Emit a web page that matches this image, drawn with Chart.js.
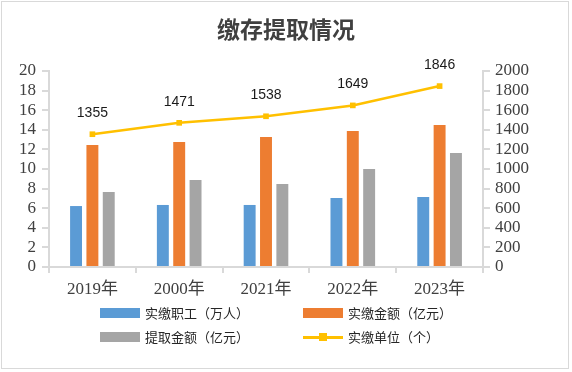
<!DOCTYPE html>
<html>
<head>
<meta charset="utf-8">
<script src="https://cdn.jsdelivr.net/npm/chart.js@4"></script>
<style>
  html,body{margin:0;padding:0;background:#fff;}
  #wrap{position:absolute;left:0;top:0;width:572px;height:372px;}
  #frame{position:absolute;left:1px;top:1px;width:568px;height:368px;border:1px solid #d9d9d9;box-sizing:border-box;pointer-events:none;}
  #title{position:absolute;left:0;width:572px;top:13px;text-align:center;font-family:"Noto Sans CJK SC";font-weight:bold;font-size:23px;color:#404040;line-height:30px;}
  .lg{position:absolute;font-family:"Noto Sans CJK SC";font-size:13px;color:#262626;line-height:16px;white-space:nowrap;}
  .sw{position:absolute;}
</style>
</head>
<body>
<div id="wrap">
  <canvas id="c" width="572" height="372"></canvas>
  <div id="title">缴存提取情况</div>
  <div id="legend"></div>
  <div id="frame"></div>
</div>
<script>
const categories = ['2019年','2000年','2021年','2022年','2023年'];
const workers = [6.22, 6.33, 6.33, 7.04, 7.14];       // 实缴职工（万人）
const depositAmt = [12.45, 12.76, 13.27, 13.88, 14.49]; // 实缴金额（亿元）
const withdrawAmt = [7.65, 8.88, 8.47, 10.0, 11.63];  // 提取金额（亿元）
const units = [1355, 1471, 1538, 1649, 1846];          // 实缴单位（个）
const leftTicks = [0,2,4,6,8,10,12,14,16,18,20];
const rightTicks = [0,200,400,600,800,1000,1200,1400,1600,1800,2000];

const seriesNames = ['实缴职工（万人）','实缴金额（亿元）','提取金额（亿元）','实缴单位（个）'];
const colors = ['#5b9bd5','#ed7d31','#a5a5a5','#ffc000'];

const axisColor = '#d9d9d9';
const tickFont = {family:'"Liberation Serif","Noto Sans CJK SC"', size:17};

const labelPlugin = {
  id:'lineLabels',
  afterDatasetsDraw(chart){
    const meta = chart.getDatasetMeta(3);
    const ctx = chart.ctx;
    ctx.save();
    ctx.font = '14px "Liberation Sans"';
    ctx.fillStyle = '#1a1a1a';
    ctx.textAlign = 'center';
    ctx.textBaseline = 'middle';
    meta.data.forEach((pt,i)=>{
      ctx.fillText(String(units[i]), pt.x, pt.y - 21);
    });
    ctx.restore();
  }
};

const barCommon = {categoryPercentage:0.565, barPercentage:0.73, yAxisID:'y', order:2};

new Chart(document.getElementById('c'), {
  type:'bar',
  data:{
    labels:categories,
    datasets:[
      {label:seriesNames[0], data:workers, backgroundColor:colors[0], ...barCommon},
      {label:seriesNames[1], data:depositAmt, backgroundColor:colors[1], ...barCommon},
      {label:seriesNames[2], data:withdrawAmt, backgroundColor:colors[2], ...barCommon},
      {label:seriesNames[3], data:units, type:'line', yAxisID:'y1', borderColor:colors[3], backgroundColor:colors[3],
       borderWidth:2.5, pointStyle:'rect', pointRadius:4, pointHoverRadius:4, pointBorderWidth:0, tension:0, order:1}
    ]
  },
  options:{
    responsive:false,
    animation:false,
    events:[],
    layout:{padding:{left:0,right:0,top:71,bottom:0}},
    plugins:{legend:{display:false}, title:{display:false}, tooltip:{enabled:false}},
    scales:{
      x:{
        grid:{display:true, drawOnChartArea:false, drawTicks:true, tickLength:6, color:axisColor, lineWidth:2, offset:true},
        border:{display:true, color:axisColor, width:2},
        ticks:{font:tickFont, color:'#404040', padding:6},
        afterFit(s){ s.height = 105; }
      },
      y:{
        position:'left', min:0, max:20,
        afterBuildTicks(s){ s.ticks = leftTicks.map(v=>({value:v})); },
        grid:{display:true, drawOnChartArea:false, drawTicks:true, tickLength:7, color:axisColor, lineWidth:2},
        border:{display:true, color:axisColor, width:2},
        ticks:{font:tickFont, color:'#404040', padding:6, autoSkip:false, callback:v=>String(v)},
        afterFit(s){ s.width = 49; }
      },
      y1:{
        position:'right', min:0, max:2000,
        afterBuildTicks(s){ s.ticks = rightTicks.map(v=>({value:v})); },
        grid:{display:true, drawOnChartArea:false, drawTicks:true, tickLength:7, color:axisColor, lineWidth:2},
        border:{display:true, color:axisColor, width:2},
        ticks:{font:tickFont, color:'#404040', padding:5, autoSkip:false, callback:v=>String(v)},
        afterFit(s){ s.width = 89; }
      }
    }
  },
  plugins:[labelPlugin]
});

// HTML legend built from series names/colours
const lg = document.getElementById('legend');
const pos = [[100,313],[303,313],[100,337],[303,337]];
seriesNames.forEach((name,i)=>{
  const [x,y] = pos[i];
  if(i===3){
    const ln = document.createElement('div'); ln.className='sw';
    ln.style.cssText = `left:${x}px;top:${y-1}px;width:40px;height:2.5px;background:${colors[i]};`;
    lg.appendChild(ln);
    const sq = document.createElement('div'); sq.className='sw';
    sq.style.cssText = `left:${x+16}px;top:${y-4}px;width:8px;height:8px;background:${colors[i]};`;
    lg.appendChild(sq);
  } else {
    const b = document.createElement('div'); b.className='sw';
    b.style.cssText = `left:${x}px;top:${y-5}px;width:40px;height:10px;background:${colors[i]};`;
    lg.appendChild(b);
  }
  const t = document.createElement('div'); t.className='lg';
  t.textContent = name;
  t.style.left = (x+45)+'px'; t.style.top = (y-8)+'px';
  lg.appendChild(t);
});
</script>
</body>
</html>
